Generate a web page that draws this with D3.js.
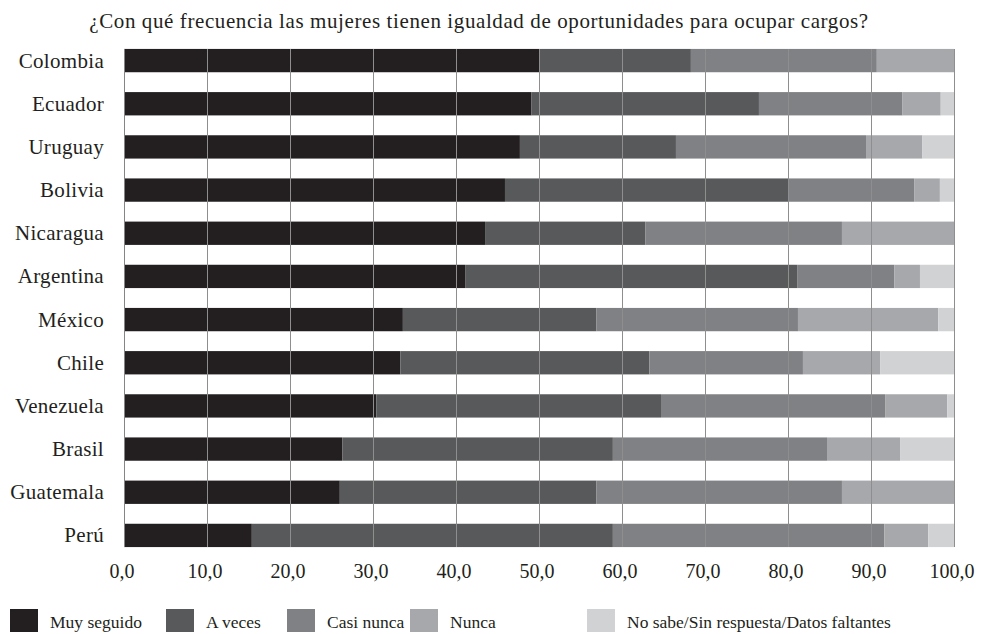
<!DOCTYPE html>
<html>
<head>
<meta charset="utf-8">
<script src="https://cdn.jsdelivr.net/npm/d3@7"></script>
<style>
  body { margin: 0; background: #fff; }
  text { font-family: "Liberation Serif", "DejaVu Serif", serif; fill: #231f20; }
</style>
</head>
<body>
<div id="chart"></div>
<script>
// Data
const paises = ["Colombia", "Ecuador", "Uruguay", "Bolivia", "Nicaragua", "Argentina",
  "México", "Chile", "Venezuela", "Brasil", "Guatemala", "Perú"];
const categorias = ["Muy seguido", "A veces", "Casi nunca", "Nunca", "No sabe/Sin respuesta/Datos faltantes"];
const muySeguido = [50.0, 49.1, 47.7, 45.9, 43.5, 41.1, 33.6, 33.3, 30.4, 26.3, 26.0, 15.4];
const aVeces     = [18.3, 27.4, 18.8, 34.1, 19.3, 40.0, 23.3, 30.0, 34.3, 32.6, 30.9, 43.5];
const casiNunca  = [22.4, 17.3, 22.9, 15.2, 23.7, 11.7, 24.3, 18.5, 27.0, 25.8, 29.6, 32.7];
const nunca      = [9.3, 4.6, 6.8, 3.1, 13.5, 3.1, 16.9, 9.3, 7.5, 8.8, 13.5, 5.3];
const noSabe     = [0.0, 1.6, 3.8, 1.7, 0.0, 4.1, 1.9, 8.9, 0.8, 6.5, 0.0, 3.1];
const ticks = [0, 10, 20, 30, 40, 50, 60, 70, 80, 90, 100];
const titulo = "¿Con qué frecuencia las mujeres tienen igualdad de oportunidades para ocupar cargos?";

const colores = ["#231f20", "#58595b", "#808184", "#a7a8ab", "#d1d2d4"];

const width = 983, height = 634;
const margin = {top: 49, right: 29, bottom: 87, left: 124};

const series = [muySeguido, aVeces, casiNunca, nunca, noSabe];
const tabla = paises.map((p, i) => {
  const row = {pais: p};
  categorias.forEach((c, j) => { row[c] = series[j][i]; });
  return row;
});

const svg = d3.select("#chart").append("svg")
  .attr("width", width).attr("height", height);

const x = d3.scaleLinear().domain([0, 100])
  .range([margin.left, width - margin.right]);
const y = d3.scaleBand().domain(paises)
  .range([margin.top - 10, 547 + 10]).paddingInner(0.46).paddingOuter(0.23);

// title
svg.append("text")
  .attr("x", 479).attr("y", 28)
  .attr("text-anchor", "middle")
  .style("font-size", "21px")
  .style("letter-spacing", "0.6px")
  .text(titulo);

// stacked bars
const stack = d3.stack().keys(categorias)(tabla);
svg.append("g").selectAll("g")
  .data(stack).join("g")
  .attr("fill", (d, i) => colores[i])
  .selectAll("rect")
  .data(d => d).join("rect")
    .attr("x", d => x(d[0]))
    .attr("y", d => y(d.data.pais))
    .attr("width", d => x(d[1]) - x(d[0]))
    .attr("height", y.bandwidth());

// gridlines on top of the bars
svg.append("g").selectAll("line")
  .data(ticks).join("line")
    .attr("x1", d => x(d) + 0.5).attr("x2", d => x(d) + 0.5)
    .attr("y1", margin.top).attr("y2", 547)
    .attr("stroke", d => d === 0 ? "#858585" : "#8e8e8e")
    .attr("stroke-width", 1);

// x tick labels
const fmt = d => d3.format(".1f")(d).replace(".", ",");
svg.append("g").selectAll("text")
  .data(ticks).join("text")
    .attr("x", d => x(d) - 2)
    .attr("y", 578)
    .attr("text-anchor", "middle")
    .style("font-size", "20px")
    .text(fmt);

// country labels
svg.append("g").selectAll("text")
  .data(paises).join("text")
    .attr("x", 104)
    .attr("y", d => y(d) + y.bandwidth() / 2)
    .attr("dy", "0.33em")
    .attr("text-anchor", "end")
    .style("font-size", "21px")
    .style("letter-spacing", "0.3px")
    .text(d => d);

// legend
const legX = [10, 166, 287, 410, 587];
const leg = svg.append("g").selectAll("g")
  .data(categorias).join("g")
  .attr("transform", (d, i) => `translate(${legX[i]},609)`);
leg.append("rect")
  .attr("width", 28).attr("height", 23)
  .attr("fill", (d, i) => colores[i]);
leg.append("text")
  .attr("x", 40).attr("y", 19)
  .style("font-size", "17.5px")
  .text(d => d);
</script>
</body>
</html>
